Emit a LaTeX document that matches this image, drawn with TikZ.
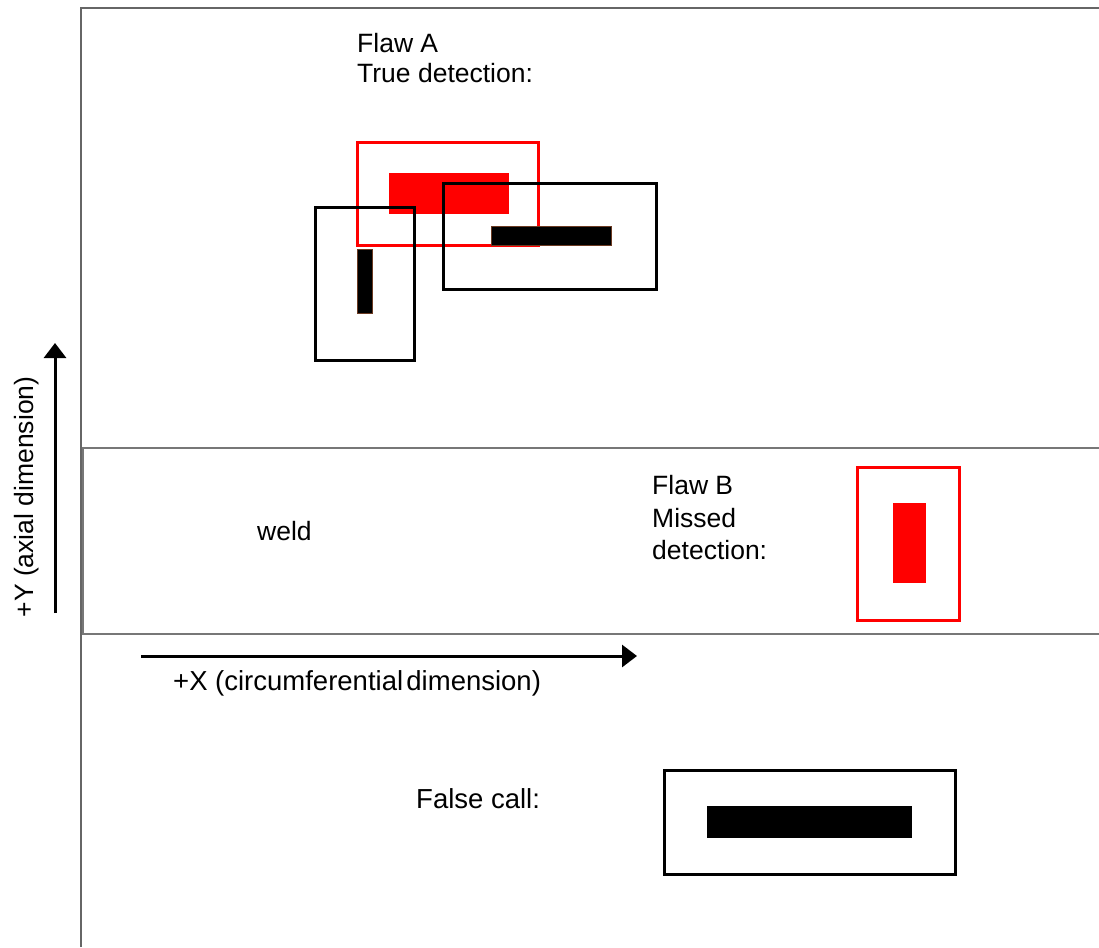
\documentclass[tikz,border=0pt]{standalone}
\usepackage{fontspec}
\setmainfont{Liberation Sans}
\usetikzlibrary{arrows.meta}
\definecolor{framegray}{HTML}{666666}
\definecolor{weldgray}{HTML}{777777}
\definecolor{flawred}{HTML}{FF0000}
\definecolor{barbrown}{HTML}{6B3A22}
\begin{document}
\begin{tikzpicture}[x=1pt,y=-1pt,
  lbl/.style={anchor=base west,inner sep=0pt,font=\fontsize{26.5}{31}\selectfont},
  frameline/.style={draw=framegray,line width=2.2pt},
  weldline/.style={draw=weldgray,line width=2pt},
  redbox/.style={draw=flawred,line width=3pt},
  blackbox/.style={draw=black,line width=3pt},
  redflaw/.style={fill=flawred},
  blackflaw/.style={fill=black,draw=barbrown,line width=1pt},
  axis/.style={line width=3pt,-{Triangle[width=22pt,length=15pt]}}]
\useasboundingbox (0,0) rectangle (1099,947);
\fill[white] (0,0) rectangle (1099,947);
% outer frame
\draw[frameline] (81,947) -- (81,8) -- (1099,8);
% weld band
\draw[weldline] (83,448) rectangle (1102,634);
% Flaw A
\draw[redbox] (357,142) rectangle (538,245);
\fill[redflaw] (389,173) rectangle (509,214);
\draw[blackbox] (443,183) rectangle (656,289);
\draw[blackbox] (315,207) rectangle (414,360);
\draw[blackflaw] (491,226) rectangle (611,245);
\draw[blackflaw] (357,249) rectangle (372,313);
% Flaw B
\draw[redbox] (857,467) rectangle (959,620);
\fill[redflaw] (893,503) rectangle (926,583);
% False call
\draw[blackbox] (664,770) rectangle (955,874);
\fill[black] (707,806) rectangle (912,838);
% axes
\coordinate (ystart) at (55,613);
\coordinate (yend) at (55,343);
\draw[axis] (ystart) -- (yend);
\coordinate (xstart) at (141,656);
\coordinate (xend) at (637,656);
\draw[axis] (xstart) -- (xend);
% labels
\node[lbl] (flawa1) at (357,53) {Flaw A};
\node[lbl] (flawa2) at (357,83) {True detection:};
\node[lbl] (weld) at (257,540) {weld};
\node[lbl] (flawb1) at (652,494) {Flaw B};
\node[lbl] (flawb2) at (652,527) {Missed};
\node[lbl] (flawb3) at (652,559) {detection:};
\node[lbl,font=\fontsize{27.5}{31}\selectfont] (xlabel) at (173,690) {+X (circumferential\hspace{0.12em}dimension)};
\node[lbl,font=\fontsize{27.5}{31}\selectfont] (falsecall) at (416,808) {False call:};
\node[inner sep=0pt,anchor=base,rotate=90,font=\fontsize{26.5}{31}\selectfont] (ylabel) at (33,497) {+Y (axial dimension)};
\end{tikzpicture}
\end{document}
